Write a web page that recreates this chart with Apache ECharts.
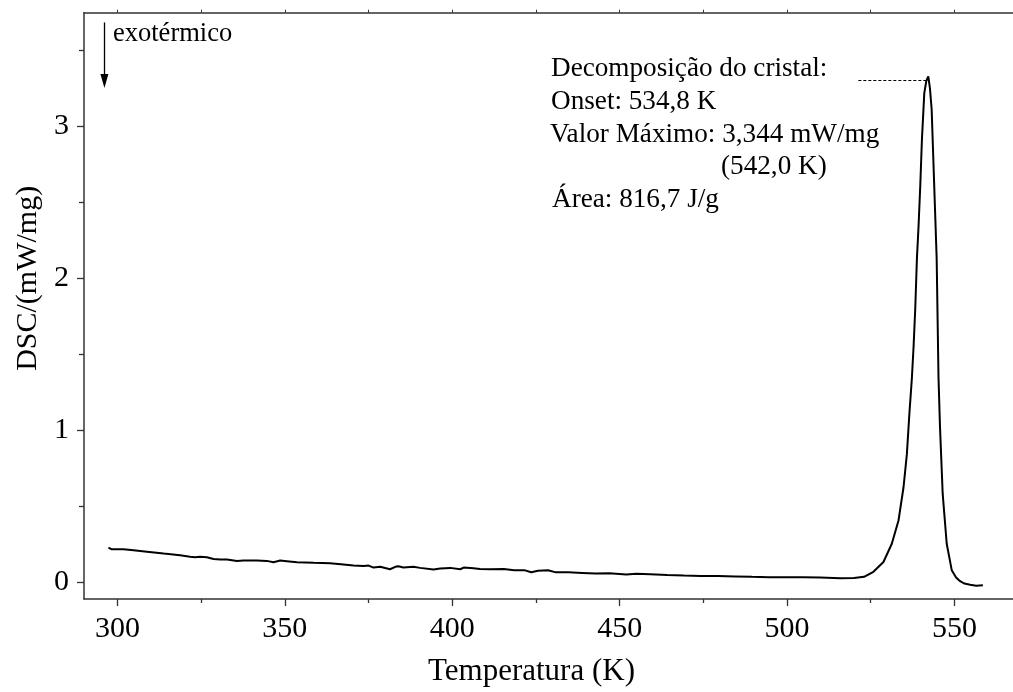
<!DOCTYPE html>
<html>
<head>
<meta charset="utf-8">
<script src="https://cdn.jsdelivr.net/npm/echarts@6/dist/echarts.min.js"></script>
<style>html,body{margin:0;padding:0;background:#fff;}#c{width:1013px;height:692px;}</style>
</head>
<body>
<div id="c"></div>
<script>
// ---- data ----
var temperatureK = [297.3, 298.3, 298.8, 301.8, 304.8, 308.8, 313.8, 318.7, 321.7, 323.2, 324.7, 326.7, 328.7, 330.7, 332.7, 335.7, 337.6, 338.1, 338.6, 341.6, 344.6, 346.6, 348.6, 350.6, 353.6, 358.6, 363.5, 367.5, 370.5, 373.5, 375.0, 376.5, 378.5, 381.4, 383.0, 383.9, 385.4, 388.4, 390.4, 394.4, 396.4, 399.4, 402.4, 403.4, 406.3, 408.3, 411.4, 415.4, 418.5, 421.5, 423.6, 425.6, 428.6, 430.7, 434.7, 438.8, 442.8, 446.9, 452.0, 455.0, 459.1, 464.2, 469.2, 474.3, 479.4, 484.5, 489.5, 494.6, 499.7, 504.8, 509.9, 516.0, 520.0, 523.0, 525.8, 528.8, 531.3, 533.3, 534.8, 535.8, 536.6, 537.3, 537.8, 538.3, 538.8, 539.3, 539.8, 540.3, 541.0, 541.6, 542.2, 542.7, 543.2, 543.7, 544.2, 544.7, 545.0, 545.25, 545.7, 546.5, 547.7, 549.2, 550.5, 551.7, 553.0, 554.7, 556.5, 558.5];
var dscValues = [0.226, 0.215, 0.220, 0.215, 0.209, 0.200, 0.187, 0.176, 0.167, 0.163, 0.167, 0.163, 0.152, 0.148, 0.148, 0.139, 0.141, 0.148, 0.141, 0.141, 0.139, 0.130, 0.141, 0.137, 0.130, 0.126, 0.124, 0.115, 0.108, 0.106, 0.108, 0.095, 0.100, 0.084, 0.100, 0.104, 0.095, 0.100, 0.093, 0.082, 0.089, 0.093, 0.084, 0.095, 0.091, 0.085, 0.084, 0.086, 0.078, 0.078, 0.064, 0.074, 0.077, 0.065, 0.064, 0.060, 0.056, 0.057, 0.049, 0.055, 0.051, 0.046, 0.042, 0.040, 0.040, 0.037, 0.034, 0.032, 0.031, 0.031, 0.029, 0.025, 0.027, 0.034, 0.067, 0.132, 0.252, 0.405, 0.624, 0.842, 1.126, 1.345, 1.55, 1.80, 2.13, 2.35, 2.61, 2.917, 3.22, 3.30, 3.33, 3.25, 3.114, 2.786, 2.459, 2.13, 1.70, 1.345, 1.017, 0.58, 0.252, 0.078, 0.030, 0.005, -0.010, -0.018, -0.024, -0.022];
var xTickValues = [300, 350, 400, 450, 500, 550];
var xMinorTickValues = [325, 375, 425, 475, 525];
var xTopTickValues = [300, 325, 350, 375, 400, 425, 450, 475, 500, 525, 550];
var yTickValues = [0, 1, 2, 3];
var yMinorTickValues = [0.5, 1.5, 2.5, 3.5];
var xRange = [290, 567.5];
var yRange = [-0.112, 3.75];
var peakLevel = 3.305;
var peakLineFrom = 521.3;
var peakLineTo = 541.6;
var arrowX = 296.1;
var arrowFrom = 3.686;
var arrowTo = 3.30;
var annotationLines = ['Decomposição do cristal:', 'Onset: 534,8 K', 'Valor Máximo: 3,344 mW/mg', '(542,0 K)', 'Área: 816,7 J/g'];

var FONT = '"Liberation Serif", "Times New Roman", serif';
var AX = '#333';

var chart = echarts.init(document.getElementById('c'), null, {renderer: 'canvas'});
var seriesData = temperatureK.map(function (t, i) { return [t, dscValues[i]]; });

var annX = [551, 551, 550, 721, 552];
var annTop = [55, 88, 121, 153, 186];

var graphics = [{
  type: 'text', x: 113, y: 21,
  style: {text: 'exotérmico', font: '26.5px ' + FONT, fill: '#000', verticalAlign: 'top'}
}];
annotationLines.forEach(function (s, i) {
  graphics.push({type: 'text', x: annX[i], y: annTop[i],
    style: {text: s, font: '27.2px ' + FONT, fill: '#000', verticalAlign: 'top'}});
});

chart.setOption({
  animation: false,
  backgroundColor: '#fff',
  grid: {left: 84, right: 0, top: 12.7, bottom: 89.7, containLabel: false},
  xAxis: [{
    type: 'value', min: xRange[0], max: xRange[1], position: 'bottom',
    axisLine: {show: true, onZero: false, lineStyle: {color: AX, width: 1.5}},
    axisTick: {show: true, customValues: xTickValues, length: 7, lineStyle: {color: AX, width: 1.3}},
    axisLabel: {customValues: xTickValues, fontSize: 30, fontFamily: FONT, color: '#000', margin: 15},
    splitLine: {show: false},
    name: 'Temperatura (K)', nameLocation: 'middle', nameGap: 57,
    nameTextStyle: {fontSize: 31, fontFamily: FONT, color: '#000', padding: [0, 34, 0, 0]}
  }, {
    type: 'value', min: xRange[0], max: xRange[1], position: 'bottom',
    axisLine: {show: false, onZero: false},
    axisTick: {show: true, customValues: xMinorTickValues, length: 4, lineStyle: {color: AX, width: 1.3}},
    axisLabel: {show: false}, splitLine: {show: false}
  }, {
    type: 'value', min: xRange[0], max: xRange[1], position: 'top',
    axisLine: {show: true, onZero: false, lineStyle: {color: AX, width: 1.5}},
    axisTick: {show: true, customValues: xTopTickValues, length: 3, lineStyle: {color: AX, width: 1}},
    axisLabel: {show: false}, splitLine: {show: false}
  }],
  yAxis: [{
    type: 'value', min: yRange[0], max: yRange[1], position: 'left',
    axisLine: {show: true, onZero: false, lineStyle: {color: AX, width: 1.5}},
    axisTick: {show: true, customValues: yTickValues, length: 7, lineStyle: {color: AX, width: 1.3}},
    axisLabel: {customValues: yTickValues, fontSize: 30, fontFamily: FONT, color: '#000', margin: 15},
    splitLine: {show: false},
    name: 'DSC/(mW/mg)', nameLocation: 'middle', nameGap: 40,
    nameTextStyle: {fontSize: 30, fontFamily: FONT, color: '#000', padding: [0, 0, 0, 55]}
  }, {
    type: 'value', min: yRange[0], max: yRange[1], position: 'left',
    axisLine: {show: false, onZero: false},
    axisTick: {show: true, customValues: yMinorTickValues, length: 5, lineStyle: {color: AX, width: 1.3}},
    axisLabel: {show: false}, splitLine: {show: false}
  }],
  series: [{
    type: 'line', xAxisIndex: 0, yAxisIndex: 0,
    data: seriesData, showSymbol: false, symbol: 'none', smooth: false,
    lineStyle: {color: '#000', width: 2},
    markLine: {
      silent: true, animation: false, label: {show: false},
      data: [
        [{coord: [peakLineFrom, peakLevel], symbol: 'none', lineStyle: {type: [3, 2], width: 1, color: '#000'}},
         {coord: [peakLineTo, peakLevel], symbol: 'none'}],
        [{coord: [arrowX, arrowFrom], symbol: 'none', lineStyle: {type: 'solid', width: 1.3, color: '#000'}},
         {coord: [arrowX, arrowTo], symbol: 'triangle', symbolSize: [8, 14]}]
      ]
    }
  }],
  graphic: graphics
});
</script>
</body>
</html>
